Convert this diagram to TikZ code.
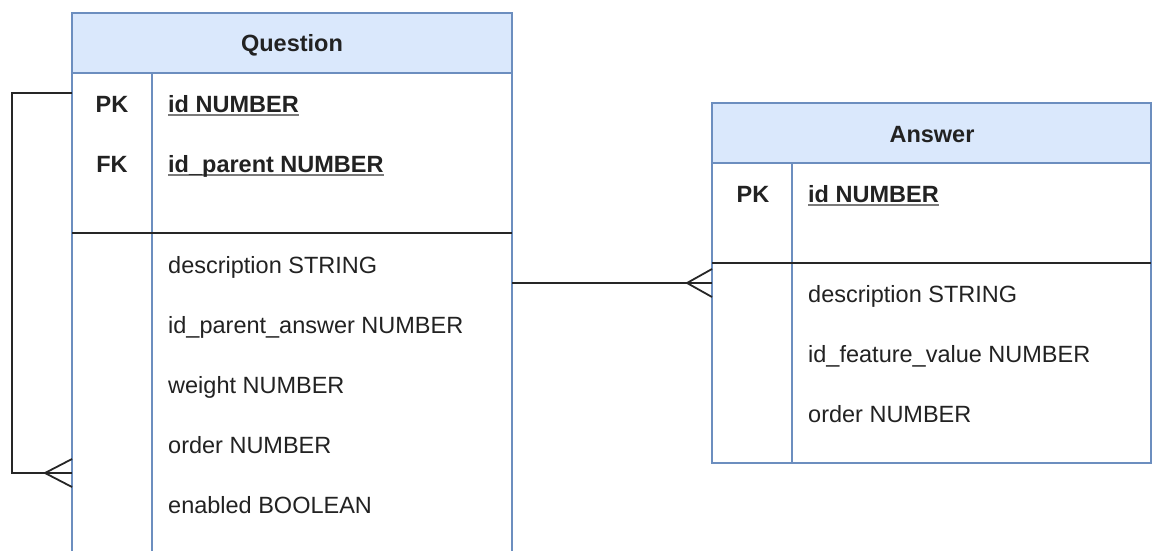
\documentclass[tikz,border=0pt]{standalone}
\usepackage{fontspec}
\setmainfont{Liberation Sans}
\definecolor{erblue}{HTML}{6C8EBF}
\definecolor{erhead}{HTML}{DAE8FC}
\definecolor{ertext}{HTML}{222222}
\definecolor{erul}{HTML}{7A7A7A}
% underlined key column text
\newcommand{\keyfield}[1]{\setbox0\hbox{#1}\rlap{\color{erul}\rule[-3.5pt]{\wd0}{1.4pt}}\box0}
\begin{document}
\begin{tikzpicture}[x=1pt,y=-1pt,
  every node/.style={text=ertext, font=\fontsize{23.5}{28}\selectfont},
  tabbox/.style={draw=erblue, line width=1.5pt, fill=white, anchor=north west, inner sep=0pt, outer sep=0pt},
  headbox/.style={tabbox, fill=erhead},
  coldiv/.style={draw=erblue, line width=1.5pt},
  rowsep/.style={draw=black!85, line width=1.8pt},
  title/.style={anchor=base, inner sep=0pt, font=\fontsize{23.5}{28}\selectfont\bfseries},
  keytag/.style={anchor=base, inner sep=0pt, font=\fontsize{23.5}{28}\selectfont\bfseries},
  keyrow/.style={anchor=base west, inner sep=0pt, font=\fontsize{23.5}{28}\selectfont\bfseries},
  field/.style={anchor=base west, inner sep=0pt},
  link/.style={draw=black!85, line width=1.8pt}
]
\path[use as bounding box] (0,0) rectangle (1152,551);
\clip (0,0) rectangle (1152,551);

% ---------- Question ----------
\node[tabbox, minimum width=440pt, minimum height=600pt] (qtab) at (72,13) {};
\node[headbox, minimum width=440pt, minimum height=60pt] (qhead) at (72,13) {};
\node[title] (qtitle) at (292,52) {Question};
\draw[coldiv] (152,73) -- (152,620);
\draw[rowsep] (72,233) -- (512,233);
\node[keytag] (qpk) at (112,112) {PK};
\node[keytag] (qfk) at (112,172) {FK};
\node[keyrow] (qid) at (168,112) {\keyfield{id NUMBER}};
\node[keyrow] (qparent) at (168,172) {\keyfield{id\_parent NUMBER}};
\node[field] (qdesc) at (168,273) {description STRING};
\node[field] (qpans) at (168,333) {id\_parent\_answer NUMBER};
\node[field] (qweight) at (168,393) {weight NUMBER};
\node[field] (qorder) at (168,453) {order NUMBER};
\node[field] (qenabled) at (168,513) {enabled BOOLEAN};

% ---------- Answer ----------
\node[tabbox, minimum width=439pt, minimum height=360pt] (atab) at (712,103) {};
\node[headbox, minimum width=439pt, minimum height=60pt] (ahead) at (712,103) {};
\node[title] (atitle) at (932,142) {Answer};
\draw[coldiv] (792,163) -- (792,463);
\draw[rowsep] (712,263) -- (1151,263);
\node[keytag] (apk) at (753,202) {PK};
\node[keyrow] (aid) at (808,202) {\keyfield{id NUMBER}};
\node[field] (adesc) at (808,302) {description STRING};
\node[field] (afeat) at (808,362) {id\_feature\_value NUMBER};
\node[field] (aorder) at (808,422) {order NUMBER};

% ---------- relationships ----------
% self reference: parent question (one) to child questions (many)
\coordinate (qselfOne) at ([yshift=-80pt]qtab.north west);
\coordinate (qselfMany) at ([yshift=-460pt]qtab.north west);
\draw[link] (qselfOne) -- ++(-60,0) |- (qselfMany);
\draw[link] (qselfMany) ++(-27,0) -- ++(27,-14);
\draw[link] (qselfMany) ++(-27,0) -- ++(27,14);

% question (one) to answers (many)
\coordinate (qaOne) at ([yshift=-270pt]qtab.north east);
\coordinate (qaMany) at (atab.west |- qaOne);
\draw[link] (qaOne) -- (qaMany);
\draw[link] (qaMany) ++(-25,0) -- ++(25,-14);
\draw[link] (qaMany) ++(-25,0) -- ++(25,14);
\end{tikzpicture}
\end{document}
